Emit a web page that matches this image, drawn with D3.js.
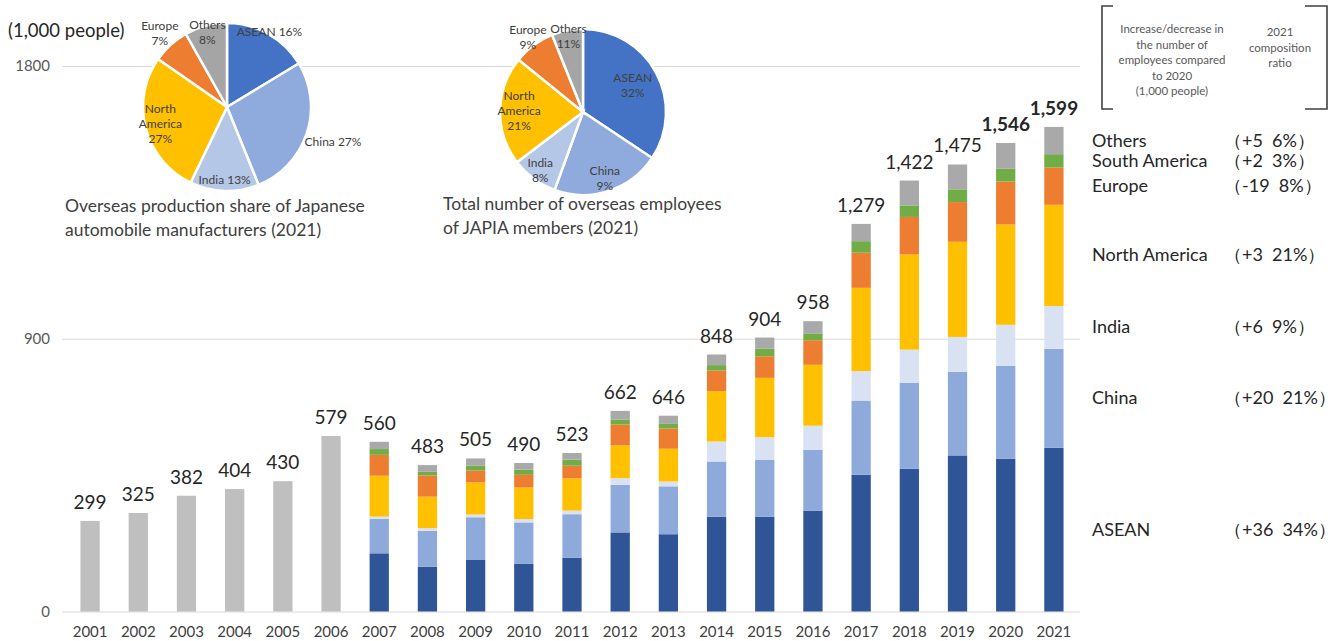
<!DOCTYPE html>
<html>
<head>
<meta charset="utf-8">
<script src="https://cdn.jsdelivr.net/npm/d3@7"></script>
<style>
  body { margin: 0; background: #fff; }
  svg { font-family: Lato, "Noto Sans", sans-serif; }
</style>
</head>
<body>
<svg id="chart" width="1342" height="641"></svg>
<script>
// categories
const years = ["2001","2002","2003","2004","2005","2006","2007","2008","2009","2010",
  "2011","2012","2013","2014","2015","2016","2017","2018","2019","2020","2021"]
const regions = ["ASEAN", "China", "India", "North America", "Europe", "South America", "Others"]
const yTicks = [0, 900, 1800]

// totals (1,000 people)
const totals = [299, 325, 382, 404, 430, 579, 560, 483, 505, 490, 523, 662, 646, 848, 904, 958,
  1279, 1422, 1475, 1546, 1599]

// breakdown by region, 2007-2021
const asean        = [192, 148, 170, 157, 177, 261, 255, 313, 313, 333, 451, 471, 515, 504, 540]
const china        = [114, 118, 141, 137, 144, 157, 158, 182, 188, 201, 245, 283, 276, 307, 327]
const india        = [7, 9, 9, 11, 12, 22, 16, 66, 74, 79, 97, 110, 115, 135, 141]
const northAmerica = [135, 104, 106, 104, 106, 108, 108, 166, 196, 201, 275, 314, 314, 331, 334]
const europe       = [69, 70, 39, 42, 42, 69, 67, 68, 71, 81, 116, 124, 131, 142, 123]
const southAmerica = [19, 12, 16, 17, 20, 16, 15, 18, 25, 21, 38, 38, 42, 42, 44]
const others       = [24, 22, 24, 22, 22, 29, 27, 35, 37, 42, 57, 82, 82, 85, 90]

// right-hand notes: change vs 2020, 2021 share
const changeVs2020 = ["+36", "+20", "+6", "+3", "-19", "+2", "+5"]
const share2021    = ["34%", "21%", "9%", "21%", "8%", "3%", "6%"]

// pies
const pieRegions = ["ASEAN", "China", "India", "North America", "Europe", "Others"]
const productionShare = [16, 27, 13, 27, 7, 8]
const productionLabels = ["16%", "27%", "13%", "27%", "7%", "8%"]
const employeeShare = [34, 21, 9, 21, 8, 6]
const employeeLabels = ["32%", "9%", "8%", "21%", "9%", "11%"]

const barColors = ["#2f5597", "#8eaadb", "#d9e2f3", "#ffc000", "#ed7d31", "#70ad47", "#a9a9a9"]
const earlyColor = "#bfbfbf"
const pieColors = ["#4472c4", "#8faadc", "#b4c7e7", "#ffc000", "#ed7d31", "#a5a5a5"]

const svg = d3.select('#chart')

const y = d3.scaleLinear().domain([0, 1800]).range([611.5, 66])
const x = d3.scaleBand().domain(years).range([66, 1078]).paddingInner(0.6).paddingOuter(0.3)

// grid + y labels
const yAxis = svg.append('g')
  .attr('transform', 'translate(62,0)')
  .call(d3.axisLeft(y).tickValues(yTicks).tickSize(-1018).tickPadding(12).tickFormat(d => d))
yAxis.select('.domain').remove()
yAxis.selectAll('line').attr('stroke', '#d9d9d9')
yAxis.selectAll('text').attr('fill', '#595959').style('font-size', '15px').style('font-family', 'Lato, sans-serif')

// x labels
const xAxis = svg.append('g')
  .attr('transform', `translate(0,${y(0)})`)
  .call(d3.axisBottom(x).tickSize(0).tickPadding(15))
xAxis.select('.domain').remove()
xAxis.selectAll('text').attr('fill', '#404040').style('font-size', '15px').style('font-family', 'Lato, sans-serif')

// early years: single grey bars
const earlyYears = years.slice(0, 6)
svg.append('g').selectAll('rect')
  .data(earlyYears)
  .enter().append('rect')
  .attr('x', d => x(d))
  .attr('width', x.bandwidth())
  .attr('y', (d, i) => y(totals[i]))
  .attr('height', (d, i) => y(0) - y(totals[i]))
  .attr('fill', earlyColor)

// stacked bars 2007-2021
const stackYears = years.slice(6)
const series = [asean, china, india, northAmerica, europe, southAmerica, others]
const table = stackYears.map((yr, i) => {
  const row = { year: yr }
  regions.forEach((r, k) => { row[r] = series[k][i] })
  return row
})
const stacked = d3.stack().keys(regions)(table)

svg.append('g').selectAll('g')
  .data(stacked)
  .enter().append('g')
  .attr('fill', (d, i) => barColors[i])
  .selectAll('rect')
  .data(d => d)
  .enter().append('rect')
  .attr('x', d => x(d.data.year))
  .attr('width', x.bandwidth())
  .attr('y', d => y(d[1]))
  .attr('height', d => y(d[0]) - y(d[1]))

// total labels
svg.append('g').selectAll('text')
  .data(years)
  .enter().append('text')
  .attr('x', d => x(d) + x.bandwidth() / 2)
  .attr('y', (d, i) => y(totals[i]) - 12)
  .attr('text-anchor', 'middle')
  .attr('fill', '#262626')
  .style('font-size', '19px')
  .style('font-weight', d => (d === "2020" || d === "2021") ? 'bold' : 'normal')
  .text((d, i) => d3.format(totals[i] >= 1000 ? ',' : 'd')(totals[i]))

// unit
svg.append('text')
  .attr('x', 8).attr('y', 37)
  .attr('fill', '#262626')
  .style('font-size', '18.5px')
  .text('(1,000 people)')

// pies
function drawPie(cx, cy, r, values, names, pcts, lines, labelR, caption) {
  const g = svg.append('g').attr('transform', `translate(${cx},${cy})`)
  const arcs = d3.pie().sort(null)(values)
  const arc = d3.arc().innerRadius(0).outerRadius(r)
  g.selectAll('path')
    .data(arcs)
    .enter().append('path')
    .attr('d', arc)
    .attr('fill', (d, i) => pieColors[i])
    .attr('stroke', '#fff')
    .attr('stroke-width', 2.5)

  arcs.forEach((a, i) => {
    const c = d3.arc().innerRadius(r * labelR[i]).outerRadius(r * labelR[i]).centroid(a)
    const txt = lines(names[i], pcts[i])
    const t = g.append('text')
      .attr('text-anchor', 'middle')
      .attr('fill', '#404040')
      .style('font-size', '12px')
    txt.forEach((s, k) => {
      t.append('tspan')
        .attr('x', c[0])
        .attr('y', c[1] + (k - (txt.length - 1) / 2) * 15 + 4)
        .text(s)
    })
  })

  const cap = svg.append('text').attr('fill', '#404040').style('font-size', '17.5px')
  caption.lines.forEach((s, k) => {
    cap.append('tspan').attr('x', caption.x).attr('y', caption.y + k * 24).text(s)
  })
}

drawPie(227, 107, 84, productionShare, pieRegions, productionLabels,
  (n, p) => n === "North America" ? ["North", "America", p] :
    (n === "Europe" || n === "Others") ? [n, p] : [n + " " + p],
  [1.03, 1.33, 0.87, 0.82, 1.19, 0.92],
  { x: 65, y: 212, lines: ["Overseas production share of Japanese", "automobile manufacturers (2021)"] })

drawPie(583, 112, 83, employeeShare, pieRegions, employeeLabels,
  (n, p) => n === "North America" ? ["North", "America", p] : [n, p],
  [0.68, 0.84, 0.87, 0.77, 1.12, 0.93],
  { x: 443, y: 210, lines: ["Total number of overseas employees", "of JAPIA members (2021)"] })

// bracket header
const br = svg.append('g').attr('stroke', '#404040').attr('stroke-width', 1.6).attr('fill', 'none')
br.append('path').attr('d', 'M1113,6 H1102 V109 H1113')
br.append('path').attr('d', 'M1305,6 H1327 V109 H1305')

const head1 = ["Increase/decrease in", "the number of", "employees compared", "to 2020", "(1,000 people)"]
const head2 = ["2021", "composition", "ratio"]
const h1 = svg.append('text').attr('text-anchor', 'middle').attr('fill', '#595959').style('font-size', '11.5px')
head1.forEach((s, k) => h1.append('tspan').attr('x', 1172).attr('y', 33 + k * 15.5).text(s))
const h2 = svg.append('text').attr('text-anchor', 'middle').attr('fill', '#595959').style('font-size', '11.5px')
head2.forEach((s, k) => h2.append('tspan').attr('x', 1280).attr('y', 36 + k * 15.5).text(s))

// region notes beside the 2021 bar
const last = stacked.map(s => s[s.length - 1])
const notes = svg.append('g').style('font-size', '18px').attr('fill', '#262626')
notes.selectAll('text.name')
  .data(regions)
  .enter().append('text')
  .attr('class', 'name')
  .attr('x', 1092)
  .attr('y', (d, i) => y((last[i][0] + last[i][1]) / 2) + 6)
  .text(d => d)
notes.selectAll('text.val')
  .data(regions)
  .enter().append('text')
  .attr('class', 'val')
  .attr('x', 1224)
  .attr('y', (d, i) => y((last[i][0] + last[i][1]) / 2) + 6)
  .style('white-space', 'pre')
  .text((d, i) => `（${changeVs2020[i]}  ${share2021[i]}）`)
</script>
</body>
</html>
